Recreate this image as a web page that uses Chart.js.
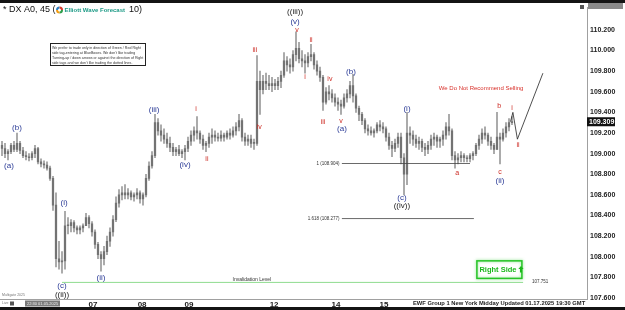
<!DOCTYPE html>
<html>
<head>
<meta charset="utf-8">
<script src="https://cdn.jsdelivr.net/npm/chart.js@4.4.1/dist/chart.umd.min.js"></script>
<style>
  html, body { margin: 0; padding: 0; background: #fff; overflow: hidden; }
  #wrap { width: 625px; height: 310px; }
</style>
</head>
<body>
<div id="wrap"><canvas id="chart" width="625" height="310"></canvas></div>
<script>
// DX A0 45 min bars (one entry per bar)
const highs = [
  109.12,109.10,109.04,109.10,109.12,109.20,109.12,109.06,109.02,109.00,
  109.02,109.08,109.06,108.95,108.93,108.92,108.88,108.78,108.62,108.15,
  108.05,108.44,108.38,108.36,108.35,108.30,108.30,108.32,108.42,108.40,
  108.34,108.26,108.14,108.05,108.10,108.20,108.28,108.40,108.58,108.65,
  108.68,108.70,108.66,108.64,108.62,108.66,108.64,108.62,108.80,108.92,
  109.02,109.38,109.34,109.28,109.24,109.20,109.16,109.10,109.06,109.08,
  109.04,109.08,109.16,109.22,109.26,109.36,109.22,109.18,109.12,109.20,
  109.24,109.22,109.20,109.22,109.20,109.22,109.24,109.26,109.30,109.38,
  109.34,109.20,109.18,109.18,109.14,109.95,109.80,109.76,109.78,109.76,
  109.74,109.72,109.74,109.80,109.98,109.94,109.92,110.00,110.18,110.08,
  110.00,109.96,109.98,110.06,109.98,109.90,109.84,109.76,109.64,109.66,
  109.62,109.58,109.54,109.52,109.58,109.62,109.70,109.77,109.58,109.46,
  109.40,109.34,109.28,109.26,109.24,109.30,109.32,109.30,109.26,109.20,
  109.12,109.14,109.20,109.20,109.00,109.40,109.26,109.22,109.18,109.16,
  109.14,109.10,109.12,109.18,109.20,109.18,109.16,109.22,109.30,109.38,
  109.24,109.02,109.00,109.02,109.00,108.98,109.00,109.02,109.10,109.18,
  109.24,109.26,109.20,109.16,109.10,109.40,109.20,109.24,109.30,109.34,
  109.36
];
const lows = [
  108.98,108.96,108.94,109.00,109.02,109.02,109.00,108.96,108.94,108.93,
  108.94,108.96,108.90,108.87,108.86,108.84,108.74,108.45,107.90,107.88,
  107.84,107.88,108.22,108.24,108.24,108.22,108.22,108.24,108.30,108.28,
  108.20,108.08,107.98,107.86,107.92,108.02,108.10,108.20,108.34,108.48,
  108.55,108.56,108.56,108.55,108.54,108.56,108.52,108.50,108.58,108.74,
  108.86,108.96,109.18,109.12,109.10,109.06,109.02,108.98,108.98,108.98,
  108.96,108.94,109.02,109.08,109.12,109.14,109.10,109.04,109.02,109.06,
  109.10,109.12,109.12,109.12,109.12,109.14,109.14,109.16,109.18,109.22,
  109.12,109.08,109.08,109.06,109.04,109.08,109.38,109.58,109.62,109.62,
  109.60,109.62,109.62,109.64,109.74,109.80,109.78,109.80,109.90,109.88,
  109.84,109.78,109.84,109.90,109.82,109.76,109.70,109.42,109.48,109.52,
  109.50,109.46,109.42,109.38,109.44,109.50,109.54,109.50,109.40,109.32,
  109.28,109.20,109.18,109.18,109.16,109.20,109.22,109.20,109.12,109.04,
  108.97,109.02,109.06,108.90,108.60,108.70,109.10,109.08,109.06,109.04,
  109.02,108.98,109.00,109.04,109.08,109.06,109.06,109.08,109.14,109.18,
  108.94,108.86,108.90,108.92,108.92,108.92,108.92,108.94,108.98,109.04,
  109.10,109.14,109.08,109.04,109.00,109.04,108.90,109.12,109.16,109.22,
  109.28
];
const closes = [
  109.05,109.00,109.02,109.08,109.04,109.10,109.03,108.98,108.97,108.96,
  109.00,109.05,108.92,108.90,108.89,108.86,108.76,108.50,107.98,107.95,
  107.96,108.30,108.30,108.33,108.28,108.26,108.28,108.30,108.38,108.32,
  108.24,108.12,108.02,107.98,108.05,108.15,108.24,108.36,108.52,108.60,
  108.62,108.60,108.62,108.58,108.60,108.62,108.56,108.60,108.76,108.88,
  108.98,109.30,109.22,109.18,109.14,109.10,109.06,109.02,109.04,109.00,
  109.02,109.05,109.12,109.18,109.22,109.20,109.14,109.08,109.10,109.16,
  109.18,109.16,109.15,109.18,109.16,109.20,109.18,109.22,109.26,109.32,
  109.16,109.12,109.14,109.10,109.10,109.70,109.62,109.70,109.68,109.66,
  109.68,109.66,109.70,109.76,109.90,109.86,109.84,109.96,110.02,109.92,
  109.90,109.88,109.94,109.96,109.86,109.80,109.74,109.50,109.60,109.58,
  109.54,109.50,109.48,109.46,109.54,109.58,109.66,109.56,109.44,109.38,
  109.32,109.24,109.22,109.20,109.22,109.28,109.26,109.24,109.16,109.08,
  109.05,109.10,109.16,108.96,108.80,109.20,109.18,109.14,109.10,109.12,
  109.06,109.04,109.08,109.14,109.16,109.12,109.14,109.18,109.26,109.22,
  108.98,108.94,108.96,108.98,108.96,108.95,108.98,109.00,109.08,109.14,
  109.20,109.18,109.12,109.08,109.04,109.16,109.14,109.20,109.26,109.30,
  109.31
];
const firstOpen = 109.08;
const lastPrice = 109.309;

// x axis day labels and where they sit (bar index)
const dayTickPos = [30.3, 46.7, 62.3, 90.7, 111.3, 127.3];
const dayTickText = ['07', '08', '09', '12', '14', '15'];
const priceTicks = [107.6, 107.8, 108.0, 108.2, 108.4, 108.6, 108.8, 109.0, 109.2, 109.4, 109.6, 109.8, 110.0, 110.2];

// levels
const fib100 = 108.904;
const fib1618 = 108.37;
const invalidation = 107.751;
// projected path (bar index, price)
const projX = [169.5, 170.3, 171.8, 180.3];
const projY = [109.31, 109.40, 109.14, 109.78];

// wave count labels: text, bar index, price, colour key
const waveLabels = [
  ['(a)', 2.3, 108.885, 'b'], ['(b)', 5, 109.25, 'b'],
  ['(c)', 20, 107.714, 'b'], ['((ii))', 20, 107.628, 'k'],
  ['(i)', 20.7, 108.52, 'b'], ['(ii)', 33, 107.80, 'b'],
  ['(iii)', 50.7, 109.423, 'b'], ['(iv)', 61, 108.895, 'b'],
  ['i', 64.7, 109.432, 'r'], ['ii', 68.3, 108.952, 'r'],
  ['iii', 84.3, 110.008, 'r'], ['iv', 85.7, 109.26, 'r'],
  ['((iii))', 97.7, 110.373, 'k'], ['(v)', 97.7, 110.277, 'b'], ['v', 98.3, 110.20, 'r'],
  ['i', 101, 109.739, 'r'], ['ii', 103, 110.104, 'r'],
  ['iii', 107, 109.307, 'r'], ['iv', 109.3, 109.72, 'r'],
  ['v', 113, 109.317, 'r'], ['(a)', 113.3, 109.24, 'b'],
  ['(b)', 116.3, 109.797, 'b'],
  ['(c)', 133.3, 108.568, 'b'], ['((iv))', 133.3, 108.492, 'k'],
  ['(i)', 135, 109.432, 'b'],
  ['a', 151.7, 108.808, 'r'],
  ['b', 165.7, 109.461, 'r'], ['c', 166, 108.818, 'r'], ['(ii)', 166, 108.741, 'b'],
  ['i', 170, 109.442, 'r'], ['ii', 172, 109.087, 'r']
];

const noteLines = [
  'We prefer to trade only in direction of Green / Red Right',
  'side tag-entering at BlueBoxes. We don\'t like trading',
  'Turning-up / down arrows or against the direction of Right',
  'side tags and we don\'t like trading the dotted lines.'
];

const wicks = highs.map((h, i) => ({ x: i, y: [lows[i], h] }));
const bodies = closes.map((c, i) => ({ x: i, y: [i === 0 ? firstOpen : closes[i - 1], c] }));

const FONT = '"Liberation Sans", Arial, sans-serif';
const colours = { b: '#2a3a96', r: '#cc2a22', k: '#1a1a1a' };

const overlay = {
  id: 'overlay',
  beforeDraw(chart) {
    const ctx = chart.ctx;
    ctx.save();
    ctx.fillStyle = '#fff';
    ctx.fillRect(0, 0, chart.width, chart.height);
    ctx.restore();
  },
  afterDraw(chart) {
    const { ctx, scales: { x, y } } = chart;
    ctx.save();
    ctx.textBaseline = 'middle';

    // black frame bars
    ctx.fillStyle = '#141414';
    ctx.fillRect(0, 0, chart.width, 3);
    ctx.fillRect(0, 307, chart.width, 3);

    // title, laid out piece by piece
    let tx = 3;
    ctx.textAlign = 'left';
    ctx.fillStyle = '#111';
    ctx.font = '9px ' + FONT;
    ctx.fillText('* DX A0, 45 (', tx, 10);
    tx += ctx.measureText('* DX A0, 45 (').width + 4;
    const lx = tx, ly = 10;
    [['#2e9e4a', 0], ['#f39c12', Math.PI / 2], ['#2a7fc0', Math.PI], ['#d63b2f', Math.PI * 1.5]].forEach(([c, a]) => {
      ctx.beginPath(); ctx.moveTo(lx, ly); ctx.arc(lx, ly, 3.5, a, a + Math.PI / 2); ctx.closePath();
      ctx.fillStyle = c; ctx.fill();
    });
    ctx.beginPath(); ctx.arc(lx, ly, 1.5, 0, Math.PI * 2); ctx.fillStyle = '#fff'; ctx.fill();
    tx += 5;
    ctx.fillStyle = '#1d9a86';
    ctx.font = 'bold 6px ' + FONT;
    ctx.fillText('Elliott Wave Forecast', tx, 10);
    tx += ctx.measureText('Elliott Wave Forecast').width + 4;
    ctx.fillStyle = '#111';
    ctx.font = '9px ' + FONT;
    ctx.fillText('10)', tx, 10);

    // note box
    ctx.strokeStyle = '#222';
    ctx.lineWidth = 1;
    ctx.strokeRect(50.5, 43.5, 95, 22);
    ctx.fillStyle = '#333';
    ctx.font = '3.6px ' + FONT;
    noteLines.forEach((t, k) => ctx.fillText(t, 52, 47.5 + k * 5));

    // wave labels
    ctx.textAlign = 'center';
    waveLabels.forEach(([t, i, p, c]) => {
      ctx.fillStyle = colours[c];
      ctx.font = (c === 'r' ? '7px ' : '8px ') + FONT;
      ctx.fillText(t, x.getPixelForValue(i), y.getPixelForValue(p));
    });

    // notes on levels
    ctx.fillStyle = '#333';
    ctx.font = '4.5px ' + FONT;
    ctx.textAlign = 'right';
    ctx.fillText('1 (108.904)', x.getPixelForValue(112.5), y.getPixelForValue(fib100));
    ctx.fillText('1.618 (108.277)', x.getPixelForValue(112.5), y.getPixelForValue(fib1618));
    ctx.textAlign = 'center';
    ctx.font = '5px ' + FONT;
    ctx.fillText('Invalidation Level', x.getPixelForValue(83.3), y.getPixelForValue(invalidation) - 3);
    ctx.textAlign = 'left';
    ctx.font = '4.5px ' + FONT;
    ctx.fillText('107.751', x.getPixelForValue(176.7), y.getPixelForValue(invalidation) - 1);

    ctx.fillStyle = '#d8302a';
    ctx.font = '6px ' + FONT;
    ctx.textAlign = 'center';
    ctx.fillText('We Do Not Recommend Selling', x.getPixelForValue(159.7), y.getPixelForValue(109.63));

    // Right Side tag
    const rx0 = x.getPixelForValue(158.3), rx1 = x.getPixelForValue(173.3);
    const ry0 = y.getPixelForValue(107.96), ry1 = y.getPixelForValue(107.79);
    ctx.save();
    ctx.shadowColor = 'rgba(40,200,40,0.6)';
    ctx.shadowBlur = 3;
    ctx.strokeStyle = '#26c426';
    ctx.lineWidth = 1.5;
    ctx.strokeRect(rx0, ry0, rx1 - rx0, ry1 - ry0);
    ctx.restore();
    ctx.fillStyle = '#1cb81c';
    ctx.font = 'bold 7.5px ' + FONT;
    ctx.textAlign = 'left';
    ctx.fillText('Right Side', rx0 + 2.5, (ry0 + ry1) / 2 + 0.5);
    const ax = rx0 + 2.5 + ctx.measureText('Right Side').width + 4.5, ay = (ry0 + ry1) / 2;
    ctx.beginPath();
    ctx.moveTo(ax, ay - 3.5); ctx.lineTo(ax + 2.6, ay - 0.5); ctx.lineTo(ax + 1, ay - 0.5); ctx.lineTo(ax + 1, ay + 3);
    ctx.lineTo(ax - 1, ay + 3); ctx.lineTo(ax - 1, ay - 0.5); ctx.lineTo(ax - 2.6, ay - 0.5); ctx.closePath();
    ctx.fill();

    // last price box
    const py = y.getPixelForValue(lastPrice);
    ctx.fillStyle = '#111';
    ctx.fillRect(587, py - 4.5, 28, 9);
    ctx.fillStyle = '#fff';
    ctx.font = 'bold 7px ' + FONT;
    ctx.textAlign = 'left';
    ctx.fillText(lastPrice.toFixed(3), 589, py + 0.5);

    // top right box and icon
    ctx.fillStyle = '#8a8a8a';
    ctx.fillRect(588, 3, 35, 6);
    ctx.fillStyle = '#555';
    ctx.fillRect(580, 5, 4, 4);

    // bottom strip texts
    ctx.fillStyle = '#777';
    ctx.font = '3.5px ' + FONT;
    ctx.fillText('Multigate 2025', 2, 295);
    ctx.fillText('Live', 2, 303.5);
    ctx.fillStyle = '#555';
    ctx.fillRect(10, 301.5, 4, 4);
    ctx.fillStyle = '#7a7a7a';
    ctx.fillRect(25, 300.5, 35, 6);
    ctx.fillStyle = '#eee';
    ctx.font = '4px ' + FONT;
    ctx.fillText('22:30 01.05.2025', 27, 303.5);

    ctx.fillStyle = '#222';
    ctx.font = 'bold 5.8px ' + FONT;
    ctx.fillText('EWF Group 1 New York Midday Updated 01.17.2025 19:30 GMT', 413, 303.5);
    ctx.restore();
  }
};

const ctx = document.getElementById('chart').getContext('2d');
const chart = new Chart(ctx, {
  type: 'bar',
  data: {
    datasets: [
      {
        type: 'line',
        data: projX.map((v, k) => ({ x: v, y: projY[k] })),
        borderColor: '#222',
        borderWidth: 0.8,
        pointRadius: 0,
        order: 0
      },
      {
        type: 'line',
        data: [{ x: 113.3, y: fib100 }, { x: 156, y: fib100 }],
        borderColor: '#444',
        borderWidth: 0.8,
        pointRadius: 0,
        order: 0
      },
      {
        type: 'line',
        data: [{ x: 113.3, y: fib1618 }, { x: 157.3, y: fib1618 }],
        borderColor: '#444',
        borderWidth: 0.8,
        pointRadius: 0,
        order: 0
      },
      {
        type: 'line',
        data: [{ x: 20, y: invalidation }, { x: 173.7, y: invalidation }],
        borderColor: '#8fdc8f',
        borderWidth: 1,
        pointRadius: 0,
        order: 3
      },
      {
        data: wicks,
        backgroundColor: '#9a9a9a',
        barThickness: 1,
        grouped: false,
        order: 2
      },
      {
        data: bodies,
        backgroundColor: '#737373',
        barThickness: 1.6,
        minBarLength: 1,
        grouped: false,
        order: 1
      }
    ]
  },
  options: {
    responsive: false,
    animation: false,
    devicePixelRatio: 1,
    layout: { padding: { top: 4, bottom: 3, left: 0, right: 0 } },
    plugins: { legend: { display: false }, tooltip: { enabled: false } },
    scales: {
      x: {
        type: 'linear',
        offset: false,
        min: -0.667,
        max: 195,
        grid: { display: false, drawTicks: false },
        border: { display: true, color: '#a0a0a0' },
        afterFit(s) { s.height = 8; },
        afterBuildTicks(s) { s.ticks = dayTickPos.map(v => ({ value: v })); },
        ticks: {
          autoSkip: false,
          maxRotation: 0,
          padding: 1,
          color: '#222',
          font: { size: 8, weight: 'bold', family: FONT },
          callback: (v, i) => dayTickText[i]
        }
      },
      y: {
        position: 'right',
        min: 107.59,
        max: 110.42,
        grid: { display: false, drawTicks: false },
        border: { display: true, color: '#a0a0a0' },
        afterFit(s) { s.width = 38; },
        afterBuildTicks(s) { s.ticks = priceTicks.map(v => ({ value: v })); },
        ticks: {
          padding: 3,
          color: '#222',
          font: { size: 7, weight: 'bold', family: FONT },
          callback: v => v.toFixed(3)
        }
      }
    }
  },
  plugins: [overlay]
});
</script>
</body>
</html>
